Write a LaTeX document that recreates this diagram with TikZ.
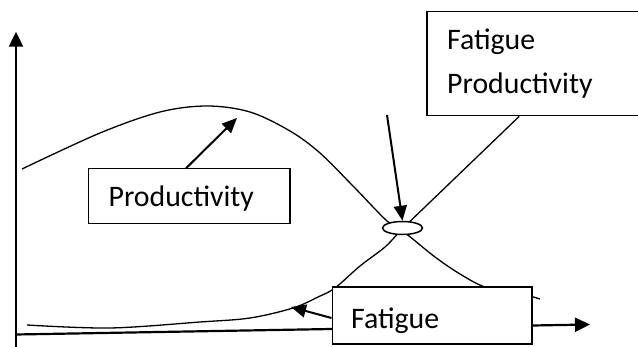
\documentclass[tikz,border=0pt]{standalone}
\usepackage{fontspec}
\setmainfont{Carlito}
\usetikzlibrary{arrows.meta,shapes.geometric,calc}
\begin{document}
\begin{tikzpicture}[x=1pt,y=-1pt,
  box/.style={draw,line width=1.5pt,fill=white,inner sep=0pt},
  lbl/.style={inner sep=0pt,font=\fontsize{29.8}{36}\selectfont},
  curve/.style={line width=1.3pt},
  arr/.style={line width=2pt,-{Triangle[length=15pt,width=13pt]}},
  axis/.style={line width=2.2pt,-{Triangle[length=15pt,width=14pt]}}]
\clip (0,0) rectangle (638,347);
% axes
\coordinate (o) at (16,347);
\coordinate (ytip) at (16,31.7);
\coordinate (xs) at (16,334.5);
\coordinate (xtip) at (590,324.5);
\draw[axis] (o) -- (ytip);
\draw[axis] (xs) -- (xtip);
% productivity curve
\draw[curve] plot[smooth,tension=0.55] coordinates {(22,169) (100,133) (160,112) (207,106) (250,112) (290,131) (320,153) (353,186) (387,221) (404,232) (435,257) (460,274) (485,287) (515,292) (540,299)};
% top box and fatigue curve
\node[box,minimum width=212pt,minimum height=104pt] (fp) at (533,63.6) {};
\coordinate (fpend) at ($(fp.south west)+(93,0)$);
\draw[curve] plot[smooth,tension=0.55] coordinates {(27,325) (110,328) (200,322) (250,318) (293,308) (318,297) (335,288) (360,266) (385,247) (400,231)} -- (fpend);
% ellipse
\node[ellipse,draw,fill=white,line width=1.5pt,minimum width=40pt,minimum height=13pt,inner sep=0pt] (e) at (402.5,228) {};
% texts and boxes
\node[lbl,anchor=base west] (fpt1) at (447,50) {Fatigue};
\node[lbl,anchor=base west] (fpt2) at (447,93.3) {Productivity};
\node[box,minimum width=201.7pt,minimum height=55pt] (prod) at (189.2,195.8) {};
\node[lbl,anchor=base west] (prodt) at (108.4,206.7) {Productivity};
\node[box,minimum width=199.5pt,minimum height=57pt] (fat) at (432,315.5) {};
\node[lbl,anchor=base west] (fatt) at (351,328.3) {Fatigue};
% arrows
\coordinate (ea) at (387,115);
\draw[arr] (ea) -- (e.north);
\coordinate (pa) at (186,168.3);
\coordinate (ptip) at (237,118);
\draw[arr] (pa) -- (ptip);
\coordinate (ftip) at (291,307);
\draw[arr] ($(fat.west)+(0,2.5)$) -- (ftip);
\end{tikzpicture}
\end{document}
